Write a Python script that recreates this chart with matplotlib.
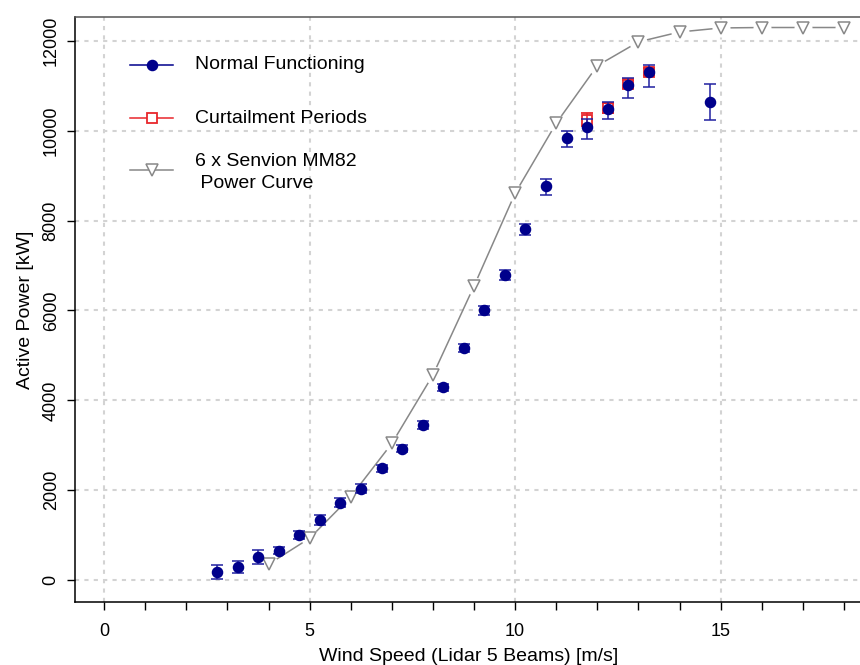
import numpy as np
import matplotlib.pyplot as plt

plt.rcParams['font.family'] = ['Liberation Sans', 'DejaVu Sans']

# normal functioning (binned lidar wind speed vs active power)
ws_normal = [2.75, 3.25, 3.75, 4.25, 4.75, 5.25, 5.75, 6.25, 6.75, 7.25, 7.75,
             8.25, 8.75, 9.25, 9.75, 10.25, 10.75, 11.25, 11.75, 12.25, 12.75,
             13.25, 14.75]
p_normal = [175, 285, 510, 655, 1000, 1335, 1715, 2035, 2485, 2925, 3445,
            4290, 5160, 6005, 6790, 7805, 8770, 9850, 10090, 10480, 11025,
            11310, 10640]
err_lo = [160, 130, 150, 70, 90, 110, 100, 100, 80, 80, 90,
          80, 90, 100, 110, 130, 190, 220, 270, 220, 290,
          340, 400]
err_hi = [160, 130, 150, 70, 90, 110, 100, 100, 80, 80, 90,
          80, 90, 100, 110, 130, 150, 140, 180, 160, 150,
          150, 400]

# curtailment periods
ws_curt = [11.75, 12.25, 12.75, 13.25]
p_curt = [10250, 10510, 11040, 11320]
err_curt = [140, 110, 90, 80]

# 6 x Senvion MM82 power curve
ws_pc = [4, 5, 6, 7, 8, 9, 10, 11, 12, 13, 14, 15, 16, 17, 18]
p_pc = [350, 930, 1855, 3040, 4565, 6545, 8610, 10170, 11450, 11980, 12200,
        12290, 12300, 12300, 12300]

blue = '#00008b'
red = '#e8262b'
grey = '#888888'

fig = plt.figure(figsize=(8.6, 6.65), dpi=100)
ax = fig.add_axes([75/860, 1-602/665, 787/860, 585/665])

ax.set_xlim(-0.71, 18.44)
ax.set_ylim(-490, 12534)

# grid
for gx in [0, 5, 10, 15]:
    ax.axvline(gx, color='#d3d3d3', lw=1.5, ls=(0, (2, 2.5)), zorder=0)
for gy in range(0, 12001, 2000):
    ax.axhline(gy, color='#d3d3d3', lw=1.5, ls=(0, (2, 2.5)), zorder=0)

# power curve, line broken around the markers like R type="b"
ax.plot(ws_pc, p_pc, color=grey, lw=1.1, zorder=2)
ax.plot(ws_pc, p_pc, ls='none', marker='o', ms=13, mfc='white', mec='none', zorder=3)
ax.plot(ws_pc, p_pc, ls='none', marker='v', ms=9, mfc='white', mec=grey, mew=1.1, zorder=4)

# curtailment
ax.errorbar(ws_curt, p_curt, yerr=err_curt, fmt='s', ms=7.5, mfc='none', mec=red,
            mew=1.3, ecolor=red, elinewidth=1.1, capsize=4.3, capthick=1.1, zorder=5)

# normal functioning
ax.errorbar(ws_normal, p_normal, yerr=[err_lo, err_hi], fmt='o', ms=7.3, color=blue,
            ecolor='#2020a0', elinewidth=1.1, capsize=4.3, capthick=1.1, zorder=6)

# legend drawn by hand
x0, x1, xm, xt = 0.0701, 0.1248, 0.0975, 0.1529
rows = [0.918, 0.827, 0.7385]
ax.plot([x0, x1], [rows[0]] * 2, color=blue, lw=1.1, transform=ax.transAxes, zorder=7)
ax.plot([xm], [rows[0]], 'o', ms=7.3, color=blue, transform=ax.transAxes, zorder=7)
ax.plot([x0, x1], [rows[1]] * 2, color=red, lw=1.1, transform=ax.transAxes, zorder=7)
ax.plot([xm], [rows[1]], 's', ms=7, mfc='white', mec=red, mew=1.3, transform=ax.transAxes, zorder=7)
ax.plot([x0, x1], [rows[2]] * 2, color=grey, lw=1.1, transform=ax.transAxes, zorder=7)
ax.plot([xm], [rows[2]], 'v', ms=9, mfc='white', mec=grey, mew=1.1, transform=ax.transAxes, zorder=7)
ax.text(xt, rows[0], 'Normal Functioning', transform=ax.transAxes, va='center', fontsize=14)
ax.text(xt, rows[1], 'Curtailment Periods', transform=ax.transAxes, va='center', fontsize=14)
ax.text(xt, rows[2] - 0.004, '6 x Senvion MM82\n Power Curve', transform=ax.transAxes, va='center',
        fontsize=14, linespacing=1.35)

# axes styling, R-like
ax.set_xticks(range(0, 19))
ax.set_xticklabels([str(i) if i % 5 == 0 else '' for i in range(0, 19)])
ax.set_yticks(range(0, 12001, 2000))
ax.tick_params(axis='both', length=6, width=1, direction='out', labelsize=13, color='black')
ax.tick_params(axis='x', pad=9)
ax.tick_params(axis='y', pad=5)
for lab in ax.get_yticklabels():
    lab.set_rotation(90)
    lab.set_va('center')
for s in ax.spines.values():
    s.set_linewidth(1.1)
ax.spines['top'].set_color('#555555')

ax.set_xlabel('Wind Speed (Lidar 5 Beams) [m/s]', fontsize=14, labelpad=6)
ax.set_ylabel('Active Power [kW]', fontsize=14, labelpad=6)

fig.savefig('out.png', dpi=100)
